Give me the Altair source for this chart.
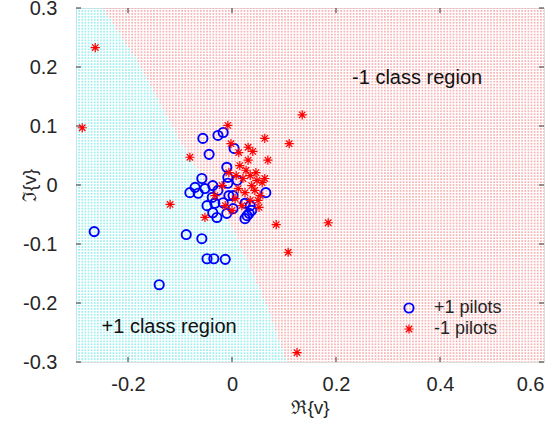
import altair as alt
import numpy as np
import pandas as pd

alt.data_transformers.disable_max_rows()

# +1 pilots (blue circles): real and imaginary parts
pos_re = [-0.265, -0.140, -0.088, -0.058, -0.048, -0.035, -0.013, -0.056, -0.027, -0.017,
          -0.044, 0.004, -0.010, -0.008, -0.071, -0.081, -0.065, -0.052, -0.058, -0.037,
          -0.033, -0.037, -0.029, -0.010, 0.002, 0.029, 0.038, 0.025, -0.017, -0.008,
          0.010, 0.002, 0.065, 0.035, 0.025, 0.033, -0.038, -0.027, -0.006, -0.048]
pos_im = [-0.079, -0.169, -0.084, -0.091, -0.125, -0.125, -0.126, 0.079, 0.084, 0.089,
          0.052, 0.062, 0.030, 0.013, -0.004, -0.013, -0.014, -0.006, 0.011, -0.001,
          -0.031, -0.047, -0.055, -0.048, -0.040, -0.052, -0.043, -0.031, -0.030, 0.003,
          0.008, -0.018, -0.013, -0.035, -0.057, -0.048, -0.021, -0.009, -0.018, -0.035]

# -1 pilots (red stars)
neg_re = [-0.263, -0.288, 0.135, 0.063, 0.110, 0.031, 0.040, -0.008, -0.002, 0.069,
          -0.081, -0.119, -0.052, 0.085, 0.052, 0.185, 0.108, 0.125, 0.015, 0.027,
          0.021, 0.035, 0.048, 0.038, 0.058, 0.012, 0.025, 0.044, 0.054, 0.006,
          0.019, 0.035, -0.013, 0.000, -0.019, -0.033, 0.046, 0.031, 0.013, 0.050,
          0.063, -0.006, 0.008]
neg_im = [0.233, 0.097, 0.119, 0.079, 0.070, 0.064, 0.057, 0.101, 0.070, 0.042,
          0.047, -0.033, -0.055, -0.067, -0.038, -0.064, -0.114, -0.284, 0.033, 0.025,
          0.011, 0.016, 0.008, -0.001, 0.004, -0.006, -0.013, -0.009, -0.018, -0.023,
          -0.035, -0.026, -0.035, -0.043, -0.001, -0.018, 0.021, 0.042, 0.055, -0.026,
          0.011, 0.021, 0.016]

# decision boundary: Re at a given Im
bnd_im = [-0.300, -0.286, -0.190, -0.077, 0.070, 0.211, 0.300]
bnd_re = [0.106, 0.100, 0.060, 0.004, -0.096, -0.183, -0.248]

region_labels = ["-1 class region", "+1 class region"]
region_re = [0.356, -0.121]
region_im = [0.182, -0.2415]

x_ticks = [-0.2, 0, 0.2, 0.4, 0.6]
y_ticks = [-0.3, -0.2, -0.1, 0, 0.1, 0.2, 0.3]
x_ticks_all = [-0.2, 0, 0.2, 0.4]

W, H = 468, 354
FONT = "Liberation Sans"
TXT = "#262626"
STAR = "M-1,0L1,0M0,-1L0,1M-0.7,-0.7L0.7,0.7M-0.7,0.7L0.7,-0.7"

# background classification grid
gx = np.arange(-0.3, 0.6001, 0.006)
gy = np.arange(-0.3, 0.3001, 0.005)
GX, GY = np.meshgrid(gx, gy)
bx = np.interp(GY, bnd_im, bnd_re)
cls = np.where(GX < bx, "+1", "-1")
bg = pd.DataFrame({"re": GX.ravel().round(4), "im": GY.ravel().round(4), "cls": cls.ravel()})

pts = pd.concat([
    pd.DataFrame({"re": pos_re, "im": pos_im, "label": "+1 pilots"}),
    pd.DataFrame({"re": neg_re, "im": neg_im, "label": "-1 pilots"}),
], ignore_index=True)
pts["order"] = (pts["label"] == "-1 pilots").astype(int)

regions = pd.DataFrame({"re": region_re, "im": region_im, "text": region_labels})

xscale = alt.Scale(domain=[-0.3, 0.6], nice=False, zero=False)
yscale = alt.Scale(domain=[-0.3, 0.3], nice=False, zero=False)
lab = "datum.value < 0 ? '-' + format(-datum.value, '~g') : format(datum.value, '~g')"
xaxis = alt.Axis(values=x_ticks, labelExpr=lab, ticks=False, tickSize=0, domain=False, grid=False,
                 labelFont=FONT, labelFontSize=20, labelColor=TXT, labelPadding=12,
                 title="ℜ{v}", titleFont=FONT, titleFontSize=19, titleFontWeight="normal",
                 titleColor=TXT, titlePadding=4)
yaxis = alt.Axis(values=y_ticks, labelExpr=lab, ticks=False, tickSize=0, domain=False, grid=False,
                 labelFont=FONT, labelFontSize=20, labelColor=TXT, labelPadding=19,
                 title="ℑ{v}", titleFont=FONT, titleFontSize=19, titleFontWeight="normal",
                 titleColor=TXT, titleX=-37, titleY=H / 2)

def X(f):
    return alt.X(f"{f}:Q", scale=xscale, axis=xaxis)

def Y(f):
    return alt.Y(f"{f}:Q", scale=yscale, axis=yaxis)

bg_layer = alt.Chart(bg).mark_square(size=3, opacity=1, clip=True).encode(
    x=X("re"), y=Y("im"),
    color=alt.Color("cls:N", scale=alt.Scale(domain=["+1", "-1"], range=["#9eeeee", "#f7b4b4"]), legend=None),
)

lab_dom = ["+1 pilots", "-1 pilots"]
pt_layer = alt.Chart(pts).mark_point(filled=False, size=85, opacity=1).encode(
    x=X("re"), y=Y("im"),
    color=alt.Color("label:N", scale=alt.Scale(domain=lab_dom, range=["#0000ff", "#ff0000"]),
                    legend=alt.Legend(title=None, orient="none", legendX=324, legendY=291,
                                      labelFont=FONT, labelFontSize=18, labelColor=TXT,
                                      symbolSize=85, symbolStrokeWidth=2, labelOffset=16,
                                      rowPadding=3, padding=0, fillColor="transparent")),
    shape=alt.Shape("label:N", scale=alt.Scale(domain=lab_dom, range=["circle", STAR]), legend=None),
    strokeWidth=alt.StrokeWidth("label:N", scale=alt.Scale(domain=lab_dom, range=[1.9, 1.2]), legend=None),
    order=alt.Order("order:Q"),
)

txt_layer = alt.Chart(regions).mark_text(font=FONT, fontSize=20, color="#111111", align="center",
                                         baseline="middle").encode(
    x=X("re"), y=Y("im"), text="text:N")

tick_color = "#333333"
xt = pd.DataFrame({"v": x_ticks_all})
yt = pd.DataFrame({"v": y_ticks})
bt = alt.Chart(xt).mark_rule(color=tick_color, strokeWidth=1).encode(x=X("v"), y=alt.value(H), y2=alt.value(H - 5))
tt = alt.Chart(xt).mark_rule(color=tick_color, strokeWidth=1).encode(x=X("v"), y=alt.value(0), y2=alt.value(5))
lt = alt.Chart(yt).mark_rule(color=tick_color, strokeWidth=1).encode(y=Y("v"), x=alt.value(0), x2=alt.value(5))
rt = alt.Chart(yt).mark_rule(color=tick_color, strokeWidth=1).encode(y=Y("v"), x=alt.value(W), x2=alt.value(W - 5))

chart = alt.layer(bg_layer, bt, tt, lt, rt, pt_layer, txt_layer).resolve_scale(
    color="independent", shape="independent", strokeWidth="independent"
).properties(
    width=W, height=H,
    autosize=alt.AutoSizeParams(type="none"),
    padding={"left": 76, "top": 8, "right": 11, "bottom": 69},
).configure_view(stroke="#444444", strokeWidth=1, strokeDash=[1, 1]).configure(background="white")

chart.save("out.html", embed_options={"renderer": "svg", "actions": False})
